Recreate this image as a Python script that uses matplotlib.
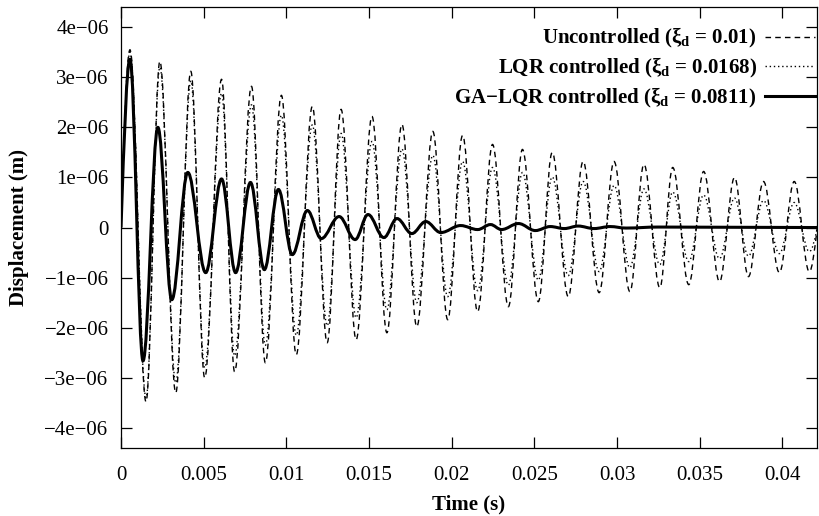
#!/usr/bin/env python3
"""
Free vibration response: uncontrolled vs LQR vs GA-LQR.
"""

import matplotlib
matplotlib.use("Agg")
import matplotlib.pyplot as plt
from matplotlib.path import Path
from matplotlib.patches import PathPatch
from matplotlib.lines import Line2D

# Extrema of each response (time in s, displacement in 1e-6 m)
unc_t = [0, 0.00054, 0.00151, 0.00235, 0.00331, 0.00422, 0.00506, 0.00608,
         0.00687, 0.00789, 0.00873, 0.00970, 0.01060, 0.01157, 0.01247, 0.01331,
         0.01422, 0.01518, 0.01608, 0.01699, 0.01789, 0.01886, 0.01976, 0.02066,
         0.02157, 0.02247, 0.02343, 0.02428, 0.02524, 0.02608, 0.02705, 0.02795,
         0.02892, 0.02982, 0.03078, 0.03163, 0.03259, 0.03337, 0.03434, 0.03524,
         0.03620, 0.03711, 0.03795, 0.03886, 0.03982, 0.04072, 0.04163, 0.04259]
unc_y = [0, 3.55, -3.48, 3.32, -3.30, 3.12, -3.00, 2.96, -2.88, 2.82, -2.70,
         2.64, -2.54, 2.42, -2.30, 2.36, -2.24, 2.22, -2.10, 2.06, -1.98, 1.92,
         -1.84, 1.84, -1.68, 1.66, -1.58, 1.56, -1.48, 1.50, -1.38, 1.32, -1.30,
         1.32, -1.28, 1.26, -1.20, 1.20, -1.14, 1.12, -1.08, 1.00, -0.98, 0.92,
         -0.90, 0.92, -0.88, 0.88]

lqr_t = unc_t
lqr_y = [0, 3.50, -3.40, 3.20, -3.10, 2.93, -2.80, 2.68, -2.56, 2.45, -2.35,
         2.24, -2.15, 2.05, -1.96, 1.88, -1.80, 1.72, -1.64, 1.57, -1.50, 1.44,
         -1.38, 1.32, -1.26, 1.20, -1.15, 1.10, -1.05, 1.01, -0.96, 0.92, -0.88,
         0.84, -0.80, 0.77, -0.74, 0.71, -0.68, 0.65, -0.62, 0.59, -0.57, 0.54,
         -0.52, 0.50, -0.48, 0.46]

ga_t = [0, 0.00054, 0.00133, 0.00223, 0.00307, 0.00404, 0.00512, 0.00608,
        0.00693, 0.00783, 0.00867, 0.00952, 0.01036, 0.01127, 0.01211, 0.01319,
        0.01416, 0.01494, 0.01590, 0.01669, 0.01759, 0.01843, 0.01934, 0.02054,
        0.02157, 0.02235, 0.02301, 0.02404, 0.02506, 0.02596, 0.02681, 0.02765,
        0.02861, 0.02958, 0.03054, 0.03247, 0.0425]
ga_y = [0, 3.36, -2.66, 2.0, -1.44, 1.10, -0.90, 0.97, -0.90, 0.90, -0.84,
        0.76, -0.54, 0.34, -0.22, 0.22, -0.24, 0.26, -0.20, 0.18, -0.12, 0.12,
        -0.10, 0.04, -0.04, 0.06, -0.04, 0.08, -0.06, 0.02, -0.02, 0.03, -0.02,
        0.02, -0.01, 0.01, 0.0]

labels = ['Uncontrolled (ξ$_\\mathbf{d}$ = 0.01)',
          'LQR controlled (ξ$_\\mathbf{d}$ = 0.0168)',
          'GA\u2212LQR controlled (ξ$_\\mathbf{d}$ = 0.0811)']

xticks = [0, 0.005, 0.01, 0.015, 0.02, 0.025, 0.03, 0.035, 0.04]
xticklabels = ['0', '0.005', '0.01', '0.015', '0.02', '0.025', '0.03', '0.035', '0.04']
yticks = [-4, -3, -2, -1, 0, 1, 2, 3, 4]
yticklabels = ['\u22124e\u221206', '\u22123e\u221206', '\u22122e\u221206', '\u22121e\u221206', '0',
               '1e\u221206', '2e\u221206', '3e\u221206', '4e\u221206']

plt.rcParams['font.family'] = ['Liberation Serif', 'DejaVu Serif']
plt.rcParams['mathtext.fontset'] = 'custom'
plt.rcParams['mathtext.rm'] = 'Liberation Serif'
plt.rcParams['mathtext.bf'] = 'Liberation Serif:bold'


def wave_path(t, y, scale=1e-6):
    """Smooth path through extrema: horizontal tangents at each peak/trough."""
    verts = [(t[0], y[0] * scale)]
    codes = [Path.MOVETO]
    for i in range(1, len(t)):
        t0, y0, t1, y1 = t[i - 1], y[i - 1] * scale, t[i], y[i] * scale
        dt = t1 - t0
        if i == 1 and y0 == 0:
            # quarter sine out of the rest position
            c1 = (t0 + 0.3343 * dt, y0 + 0.5251 * (y1 - y0))
            c2 = (t0 + 0.6498 * dt, y1)
        else:
            c1 = (t0 + 0.3634 * dt, y0)
            c2 = (t1 - 0.3634 * dt, y1)
        verts += [c1, c2, (t1, y1)]
        codes += [Path.CURVE4] * 3
    return Path(verts, codes)


fig = plt.figure(figsize=(8.2, 5.16), dpi=100)
ax = fig.add_axes([0.1476, 0.132, 0.8488, 0.854])

dash_style = (0, (4, 3))
dot_style = (0, (1, 2))

ax.add_patch(PathPatch(wave_path(unc_t, unc_y), fill=False, edgecolor='black',
                       lw=1.0, linestyle=dash_style, zorder=2))
ax.add_patch(PathPatch(wave_path(lqr_t, lqr_y), fill=False, edgecolor='black',
                       lw=1.0, linestyle=dot_style, zorder=2))
ax.add_patch(PathPatch(wave_path(ga_t, ga_y), fill=False, edgecolor='black',
                       lw=2.2, linestyle='-', zorder=3))

ax.set_xlim(0, 0.0421)
ax.set_ylim(-4.4e-6, 4.4e-6)

ax.set_xticks(xticks)
ax.set_xticklabels(xticklabels)
ax.set_yticks([v * 1e-6 for v in yticks])
ax.set_yticklabels(yticklabels)
ax.tick_params(direction='in', length=8, width=0.9, top=True, right=True,
               labelsize=15)
ax.tick_params(axis='x', pad=13)
ax.tick_params(axis='y', pad=9)
for sp in ax.spines.values():
    sp.set_linewidth(0.9)

ax.set_xlabel('Time (s)', fontsize=15, fontweight='bold', labelpad=7)
ax.set_ylabel('Displacement (m)', fontsize=15, fontweight='bold', labelpad=11)

handles = [Line2D([], [], color='black', lw=1.0, linestyle=dash_style),
           Line2D([], [], color='black', lw=1.0, linestyle=dot_style),
           Line2D([], [], color='black', lw=2.2, linestyle='-')]
ax.legend(handles, labels, loc='upper right', bbox_to_anchor=(1.003, 0.966),
          frameon=False, markerfirst=False, handlelength=2.4, handletextpad=0.4,
          labelspacing=0.28, borderaxespad=0, borderpad=0.2,
          prop={'size': 15, 'weight': 'bold'})

fig.savefig('out.png', dpi=100)
print("saved out.png")
